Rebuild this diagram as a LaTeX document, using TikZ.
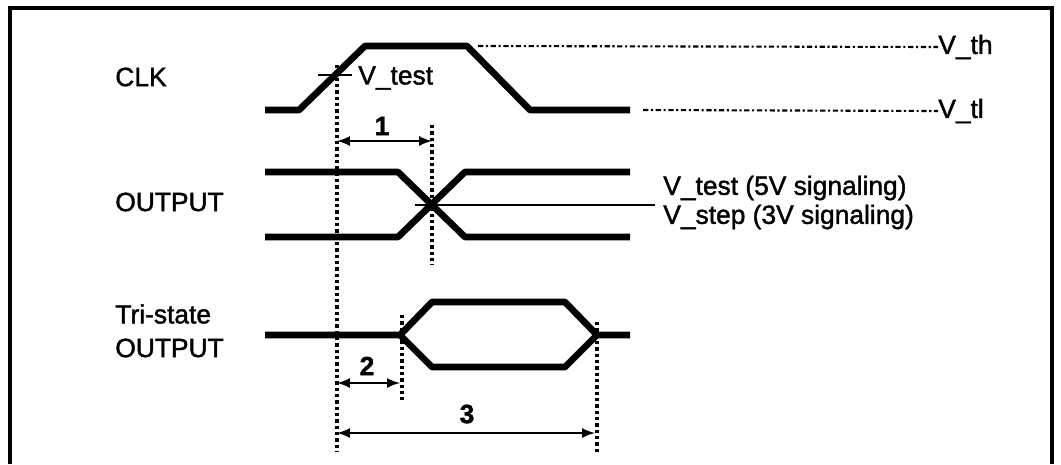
\documentclass[tikz,border=0pt]{standalone}
\usepackage{fontspec}
\setmainfont[FakeBold=1.5]{Liberation Sans}
\usepackage{tikz}
\usetikzlibrary{arrows, calc, positioning}

\tikzset{
	sig/.style={line width=3.8pt, line join=round},
	guide/.style={line width=1.9pt, dash pattern=on 1.9pt off 1.7pt},
	level/.style={line width=1.2pt, dash pattern=on 3pt off 1.5pt on 1.2pt off 1.5pt},
	meas/.style={line width=1.5pt, latex-latex},
	lbl/.style={font=\fontsize{15}{17}\selectfont, inner sep=0pt},
}

\begin{document}
\begin{tikzpicture}[x=0.02cm, y=-0.02cm]
	\useasboundingbox (0,0) rectangle (1061,464);
	% frame
	\draw[line width=2.2pt] (10,464) -- (10,8) -- (1052,8) -- (1052,464);

	% CLK
	\node[lbl, anchor=west] (clk) at (115,77) {CLK};
	\draw[sig] (265,110) -- (299,110) -- (365,46) -- (467,46) -- (530,110) -- (630,110);
	\node[lbl, anchor=west] (vth) at (938,47) {V\_th};
	\node[lbl, anchor=west] (vtl) at (938,111) {V\_tl};
	\draw[level] (478,46) -- (vth.west);
	\draw[level] (643,110) -- (vtl.west);
	\draw[line width=1.4pt] (318,75) -- (352,75);
	\node[lbl, anchor=west] (vtest) at (358,78) {V\_test};

	% OUTPUT
	\node[lbl, anchor=west] (out) at (115,202) {OUTPUT};
	\draw[sig] (265,172) -- (398,172) -- (465,237) -- (630,237);
	\draw[sig] (265,237) -- (398,237) -- (465,172) -- (630,172);
	\draw[line width=1.2pt] (415,205) -- (655,205);
	\node[lbl, anchor=west] (lvl5) at (663,188) {V\_test (5V signaling)};
	\node[lbl, anchor=west] (lvl3) at (663,217) {V\_step (3V signaling)};

	% Tri-state OUTPUT
	\node[lbl, anchor=west] (tri) at (115,314) {Tri-state};
	\node[lbl, anchor=west] (tri2) at (115,348) {OUTPUT};
	\draw[sig] (265,335) -- (400,335) -- (432,302) -- (565,302) -- (597,335) -- (630,335);
	\draw[sig] (400,335) -- (432,367) -- (565,367) -- (597,335);

	% timing guides
	\draw[guide] (337,65) -- (337,452);
	\draw[guide] (432,125) -- (432,265);
	\draw[guide] (402,315) -- (402,400);
	\draw[guide] (597,322) -- (597,452);

	% measurements
	\draw[meas] (337,141) -- (432,141);
	\node[lbl] (t1) at (382,126) {\textbf{1}};
	\draw[meas] (337,383) -- (400,383);
	\node[lbl] (t2) at (367,366) {\textbf{2}};
	\draw[meas] (337,433) -- (595,433);
	\node[lbl] (t3) at (467,414) {\textbf{3}};
\end{tikzpicture}
\end{document}
